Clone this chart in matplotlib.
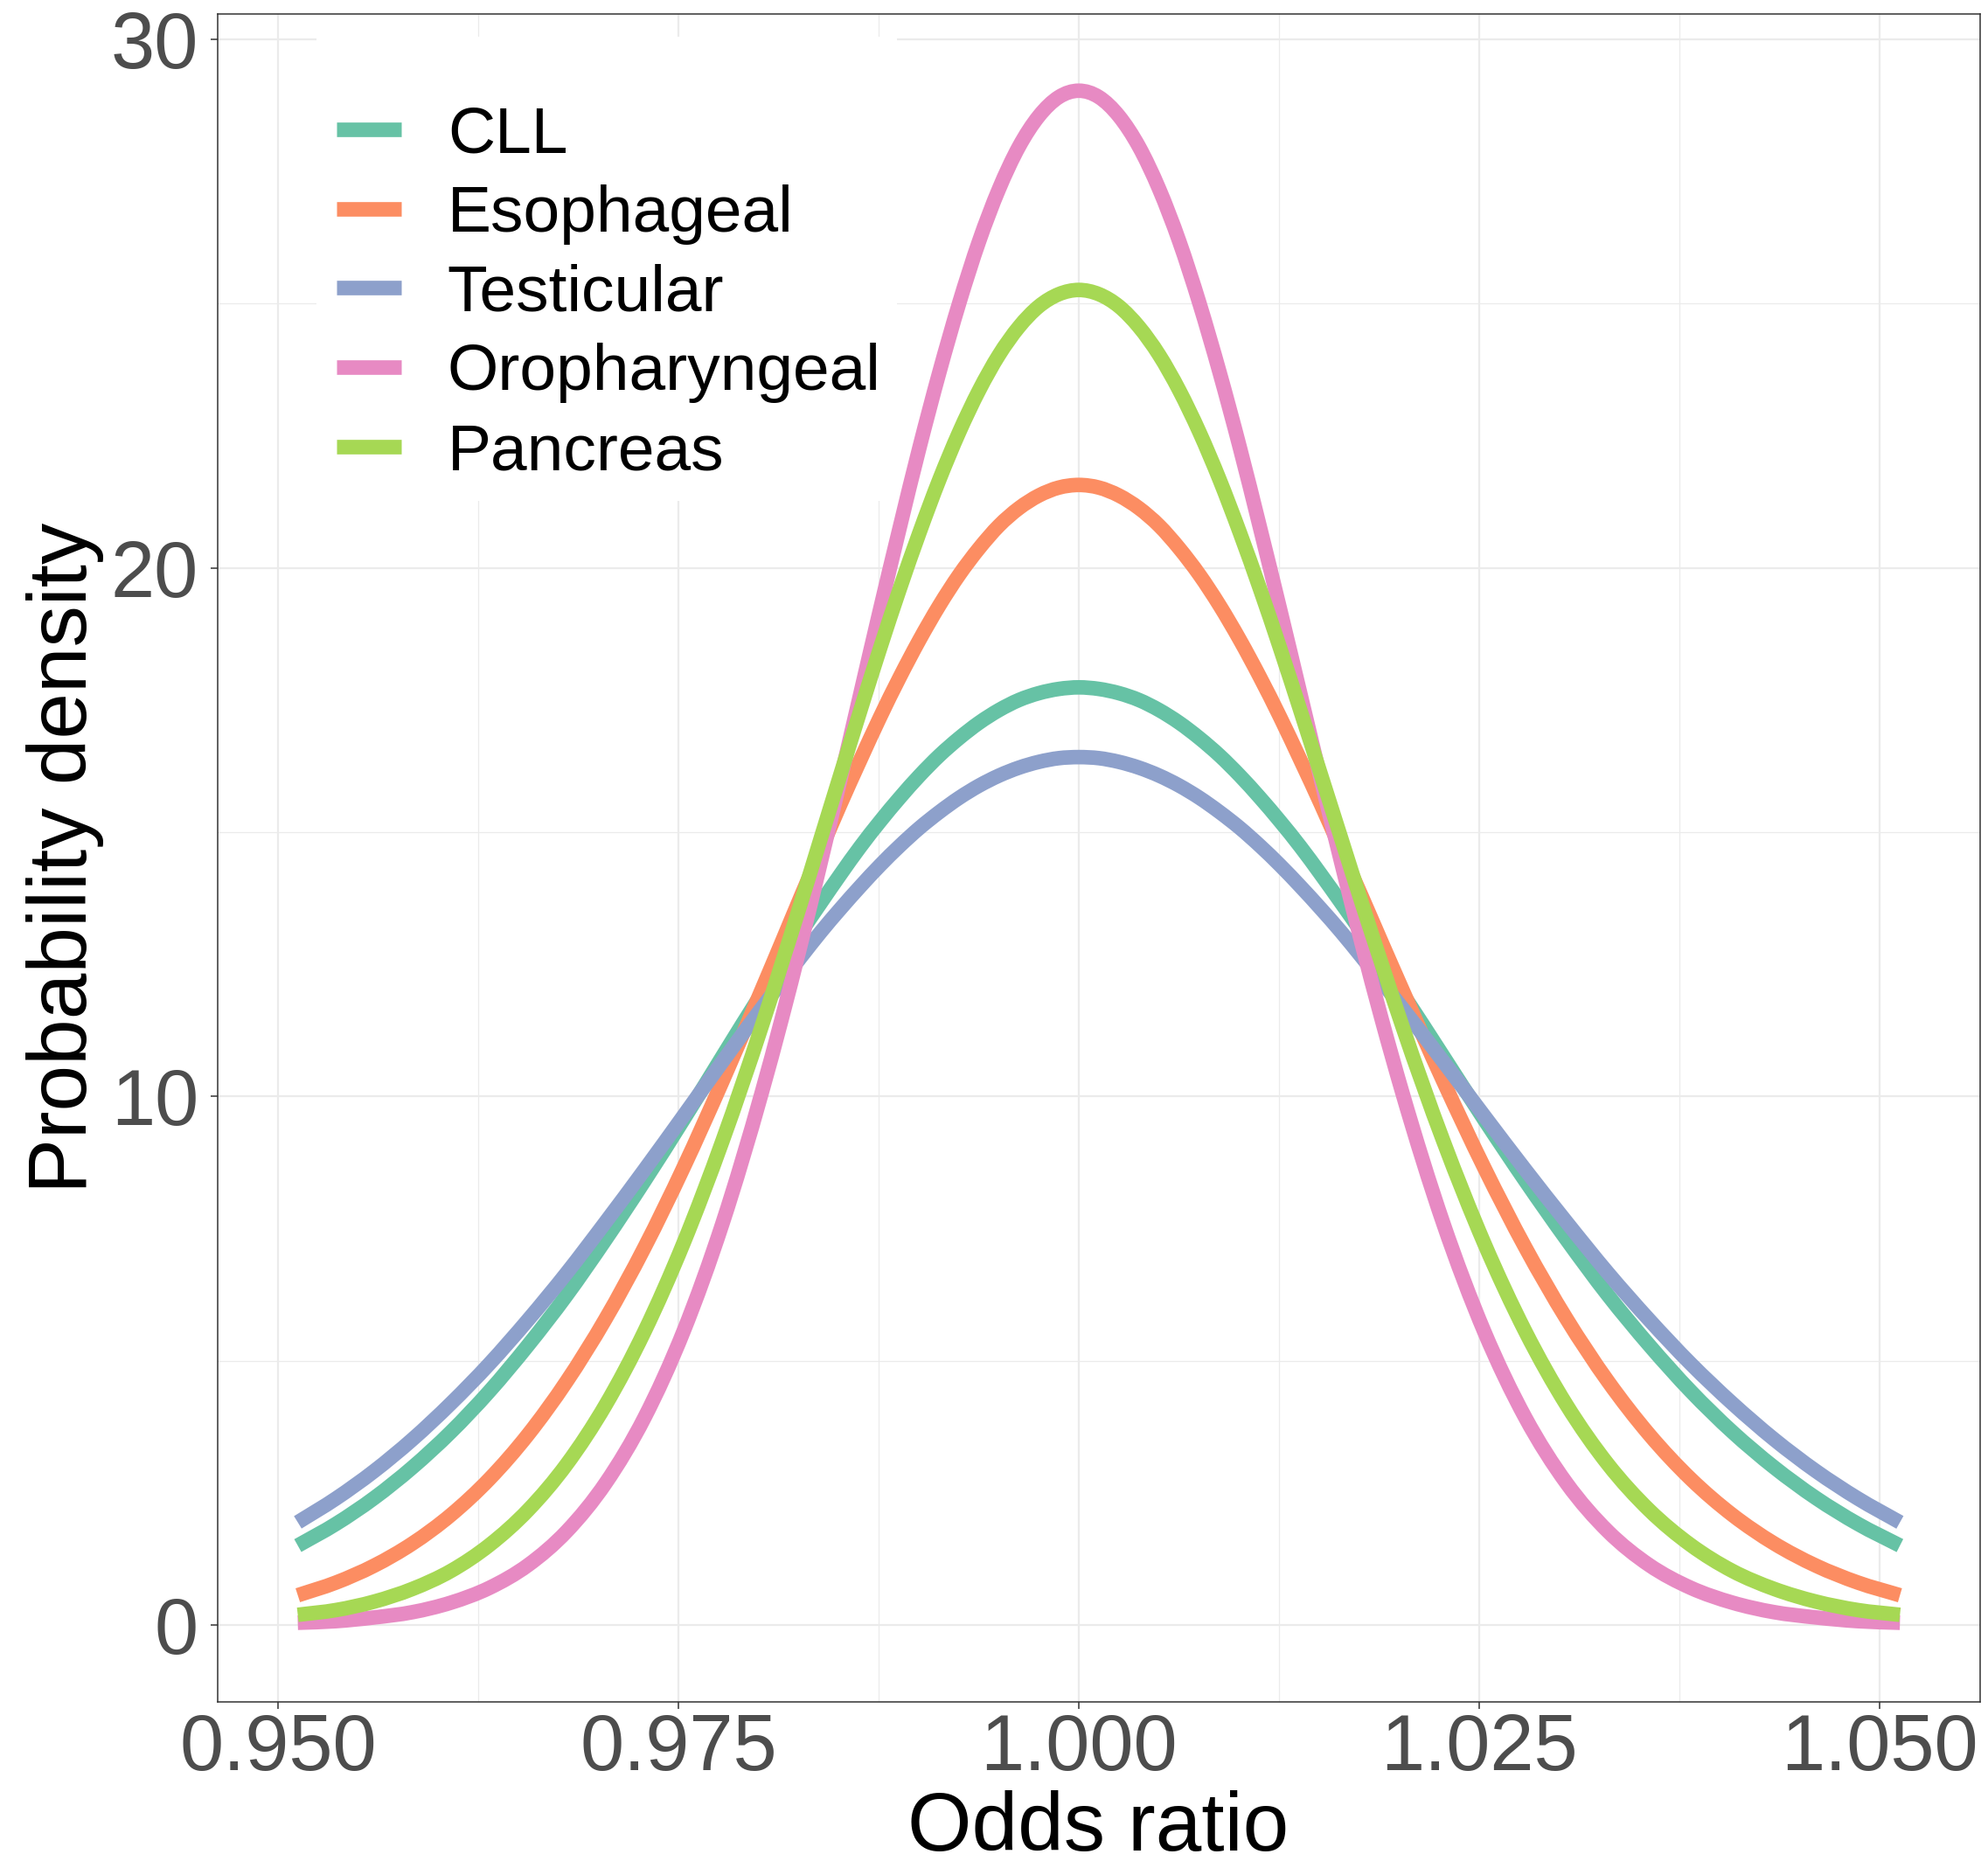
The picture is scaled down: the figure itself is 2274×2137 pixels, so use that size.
import matplotlib
matplotlib.use("Agg")
import numpy as np
import matplotlib.pyplot as plt
from matplotlib.patches import Rectangle, PathPatch
from matplotlib.path import Path
from matplotlib.lines import Line2D

plt.rcParams['font.family'] = ['Liberation Sans', 'DejaVu Sans']

# odds ratio positions the curves were read at
odds_ratio = [0.951229, 0.953610, 0.955997, 0.958390, 0.960789, 0.963194, 0.965605,
              0.968022, 0.970446, 0.972875, 0.975310, 0.977751, 0.980199, 0.981425,
              0.982652, 0.983881, 0.985112, 0.986344, 0.987578, 0.988813, 0.990050,
              0.991288, 0.992528, 0.993769, 0.995012, 0.996257, 0.997503, 0.998751,
              1.000000,
              1.001251, 1.002503, 1.003757, 1.005013, 1.006270, 1.007528, 1.008788,
              1.010050, 1.011314, 1.012578, 1.013845, 1.015113, 1.016383, 1.017654,
              1.018927, 1.020201, 1.022755, 1.025315, 1.027882, 1.030455, 1.033034,
              1.035620, 1.038212, 1.040811, 1.043416, 1.046028, 1.048646, 1.051271]

cll = [1.50, 1.91, 2.40, 2.98, 3.65, 4.42, 5.29, 6.24, 7.29, 8.40, 9.56, 10.76, 11.95,
       12.53, 13.11, 13.66, 14.20, 14.72, 15.20, 15.65, 16.07, 16.45, 16.78, 17.07,
       17.31, 17.50, 17.63, 17.71, 17.74, 17.71, 17.63, 17.50, 17.31, 17.07, 16.78,
       16.45, 16.07, 15.65, 15.20, 14.72, 14.20, 13.66, 13.11, 12.53, 11.95, 10.76,
       9.56, 8.40, 7.29, 6.24, 5.29, 4.42, 3.65, 2.98, 2.40, 1.91, 1.50]

esophageal = [0.56, 0.80, 1.12, 1.54, 2.08, 2.76, 3.60, 4.61, 5.79, 7.14, 8.65, 10.29,
              12.02, 12.90, 13.79, 14.66, 15.53, 16.36, 17.17, 17.93, 18.64, 19.29,
              19.87, 20.37, 20.80, 21.13, 21.37, 21.52, 21.57, 21.52, 21.37, 21.13,
              20.80, 20.37, 19.87, 19.29, 18.64, 17.93, 17.17, 16.36, 15.53, 14.66,
              13.79, 12.90, 12.02, 10.29, 8.65, 7.14, 5.79, 4.61, 3.60, 2.76, 2.08,
              1.54, 1.12, 0.80, 0.56]

testicular = [1.94, 2.39, 2.91, 3.51, 4.19, 4.94, 5.77, 6.66, 7.62, 8.61, 9.63, 10.66,
              11.67, 12.16, 12.64, 13.11, 13.55, 13.97, 14.37, 14.74, 15.08, 15.38,
              15.65, 15.88, 16.07, 16.22, 16.33, 16.40, 16.42, 16.40, 16.33, 16.22,
              16.07, 15.88, 15.65, 15.38, 15.08, 14.74, 14.37, 13.97, 13.55, 13.11,
              12.64, 12.16, 11.67, 10.66, 9.63, 8.61, 7.62, 6.66, 5.77, 4.94, 4.19,
              3.51, 2.91, 2.39, 1.94]

oropharyngeal = [0.04, 0.07, 0.14, 0.24, 0.42, 0.70, 1.13, 1.77, 2.68, 3.92, 5.55, 7.60,
                 10.07, 11.44, 12.90, 14.43, 16.00, 17.60, 19.20, 20.76, 22.28, 23.70,
                 25.01, 26.18, 27.17, 27.97, 28.55, 28.91, 29.03, 28.91, 28.55, 27.97,
                 27.17, 26.18, 25.01, 23.70, 22.28, 20.76, 19.20, 17.60, 16.00, 14.43,
                 12.90, 11.44, 10.07, 7.60, 5.55, 3.92, 2.68, 1.77, 1.13, 0.70, 0.42,
                 0.24, 0.14, 0.07, 0.04]

pancreas = [0.19, 0.28, 0.44, 0.68, 1.02, 1.51, 2.17, 3.04, 4.16, 5.55, 7.22, 9.16,
            11.33, 12.49, 13.67, 14.88, 16.09, 17.29, 18.47, 19.60, 20.67, 21.67,
            22.57, 23.36, 24.03, 24.56, 24.95, 25.18, 25.26, 25.18, 24.95, 24.56,
            24.03, 23.36, 22.57, 21.67, 20.67, 19.60, 18.47, 17.29, 16.09, 14.88,
            13.67, 12.49, 11.33, 9.16, 7.22, 5.55, 4.16, 3.04, 2.17, 1.51, 1.02,
            0.68, 0.44, 0.28, 0.19]

labels = ['CLL', 'Esophageal', 'Testicular', 'Oropharyngeal', 'Pancreas']
colors = ['#66C2A5', '#FC8D62', '#8DA0CB', '#E78AC3', '#A6D854']
x_ticks = [0.950, 0.975, 1.000, 1.025, 1.050]
x_minor = [0.9625, 0.9875, 1.0125, 1.0375]
y_ticks = [0, 10, 20, 30]
y_minor = [5, 15, 25]


def curve_path(xs, ys):
    # smooth line through the read points (cubic segments between them)
    x = np.asarray(xs, dtype=float)
    y = np.asarray(ys, dtype=float)
    h = np.diff(x)
    d = np.diff(y) / h
    m = np.empty_like(y)
    m[1:-1] = (h[1:] * d[:-1] + h[:-1] * d[1:]) / (h[:-1] + h[1:])
    m[0], m[-1] = d[0], d[-1]
    verts = [(x[0], y[0])]
    codes = [Path.MOVETO]
    for i in range(len(x) - 1):
        verts += [(x[i] + h[i] / 3, y[i] + m[i] * h[i] / 3),
                  (x[i + 1] - h[i] / 3, y[i + 1] - m[i + 1] * h[i] / 3),
                  (x[i + 1], y[i + 1])]
        codes += [Path.CURVE4] * 3
    return Path(verts, codes)


fig = plt.figure(figsize=(22.74, 21.37), dpi=100)
ax = fig.add_axes([0.1095, 0.0891, 0.8865, 0.9034])

series = [cll, esophageal, testicular, oropharyngeal, pancreas]
handles = []
for ys, lab, col in zip(series, labels, colors):
    ax.add_patch(PathPatch(curve_path(odds_ratio, ys), facecolor='none', edgecolor=col,
                           lw=12, capstyle='butt', joinstyle='round', zorder=3))
    handles.append(Line2D([], [], color=col, lw=12, solid_capstyle='butt', label=lab))

ax.set_xlim(0.946227, 1.056273)
ax.set_ylim(-1.4515, 30.4815)

ax.set_xticks(x_ticks)
ax.set_xticklabels(['%.3f' % v for v in x_ticks])
ax.set_xticks(x_minor, minor=True)
ax.set_yticks(y_ticks)
ax.set_yticklabels([str(v) for v in y_ticks])
ax.set_yticks(y_minor, minor=True)

ax.set_axisbelow(True)
ax.grid(which='major', color='#EBEBEB', lw=1.6)
ax.grid(which='minor', color='#EBEBEB', lw=0.9)
ax.tick_params(which='major', length=5.8, width=1.1, color='#333333',
               labelsize=65, labelcolor='#4D4D4D')
ax.tick_params(axis='x', which='major', pad=3)
ax.tick_params(axis='y', which='major', pad=10)
ax.tick_params(which='minor', length=0)
for sp in ax.spines.values():
    sp.set_color('#333333')
    sp.set_linewidth(1.1)

# white legend box over the panel
ax.add_patch(Rectangle((0.056, 0.7115), 0.3294, 0.2751, transform=ax.transAxes,
                       facecolor='white', edgecolor='none', zorder=2))

leg = ax.legend(handles=handles, loc='upper left', bbox_to_anchor=(0.0675, 0.9461),
                frameon=False, fontsize=54, handlelength=0.98, handletextpad=0.71,
                labelspacing=0.29, borderpad=0, borderaxespad=0)
leg.set_zorder(5)

fig.text(0.5523, 0.0, 'Odds ratio', fontsize=68, ha='center', va='bottom')
fig.text(0.0329, 0.5409, 'Probability density', fontsize=68, ha='center',
         va='center', rotation=90)

fig.savefig('out.png', dpi=100)
